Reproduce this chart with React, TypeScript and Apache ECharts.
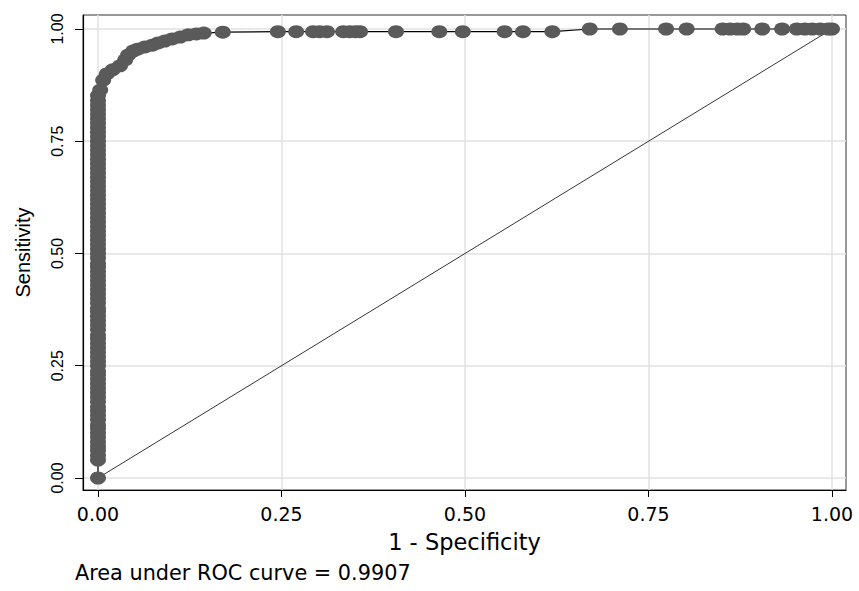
import React, { useEffect, useRef } from "react";
import * as echarts from "echarts";

// Axis ticks
const xTickValues = [0, 0.25, 0.5, 0.75, 1];
const yTickValues = [0, 0.25, 0.5, 0.75, 1];

// ROC curve points (1 - Specificity, Sensitivity)
const originPoint = [0, 0];

// dense vertical column at 1 - Specificity = 0
const columnSensitivity = [
  0.04, 0.05, 0.061, 0.07, 0.08, 0.091, 0.1, 0.11, 0.118, 0.13, 0.14, 0.15,
  0.158, 0.17, 0.18, 0.19, 0.2, 0.21, 0.22, 0.23, 0.238, 0.25, 0.26, 0.27,
  0.28, 0.29, 0.3, 0.31, 0.318, 0.33, 0.34, 0.35, 0.36, 0.37, 0.378, 0.39,
  0.4, 0.41, 0.42, 0.43, 0.44, 0.45, 0.46, 0.47, 0.478, 0.49, 0.5, 0.51, 0.52,
  0.53, 0.54, 0.55, 0.56, 0.57, 0.58, 0.59, 0.6, 0.61, 0.62, 0.63, 0.64, 0.65,
  0.66, 0.67, 0.68, 0.69, 0.7, 0.71, 0.72, 0.73, 0.74, 0.75, 0.76, 0.77, 0.78,
  0.79, 0.8, 0.81, 0.82, 0.83, 0.84, 0.852,
];

// bend of the curve
const bendFpr = [
  0.003, 0.007, 0.012, 0.02, 0.03, 0.037, 0.041, 0.048, 0.054, 0.064, 0.074,
  0.082, 0.091, 0.101, 0.112, 0.123, 0.134, 0.144, 0.17,
];
const bendSensitivity = [
  0.864, 0.886, 0.9, 0.909, 0.918, 0.931, 0.942, 0.951, 0.955, 0.96, 0.964,
  0.969, 0.973, 0.978, 0.982, 0.987, 0.989, 0.991, 0.993,
];

// plateau near sensitivity = 1
const plateauFpr = [
  0.245, 0.27, 0.293, 0.302, 0.312, 0.334, 0.343, 0.351, 0.357, 0.406, 0.465,
  0.497, 0.554, 0.579, 0.619, 0.67, 0.711, 0.774, 0.802, 0.851, 0.861, 0.871,
  0.879, 0.905, 0.932, 0.952, 0.963, 0.973, 0.984, 0.995, 1.0,
];
const plateauSensitivity = [
  0.994, 0.994, 0.994, 0.994, 0.994, 0.994, 0.994, 0.994, 0.994, 0.994, 0.994,
  0.994, 0.994, 0.994, 0.994, 1.0, 1.0, 1.0, 1.0, 1.0, 1.0, 1.0, 1.0, 1.0,
  1.0, 1.0, 1.0, 1.0, 1.0, 1.0, 1.0,
];

const diagonal = [
  [0, 0],
  [1, 1],
];

const aucText = "Area under ROC curve = 0.9907";

export default function App() {
  const ref = useRef<HTMLDivElement>(null);

  useEffect(() => {
    document.body.style.margin = "0";
    if (!ref.current) return;
    const chart = echarts.init(ref.current, null, { renderer: "svg" });

    const rocData: number[][] = [];
    rocData.push(originPoint);
    columnSensitivity.forEach((s) => rocData.push([0, s]));
    bendFpr.forEach((f, i) => rocData.push([f, bendSensitivity[i]]));
    plateauFpr.forEach((f, i) => rocData.push([f, plateauSensitivity[i]]));

    const fmt = (v: number) => v.toFixed(2);

    chart.setOption({
      animation: false,
      backgroundColor: "#ffffff",
      grid: {
        left: 83,
        right: 13,
        top: 15,
        bottom: 101,
        show: true,
        borderColor: "#333333",
        borderWidth: 1,
        backgroundColor: "transparent",
        containLabel: false,
        outerBoundsMode: "none",
      },
      xAxis: {
        type: "value",
        min: -0.02044,
        max: 1.01907,
        name: "1 - Specificity",
        nameLocation: "middle",
        nameGap: 40,
        nameTextStyle: {
          fontFamily: "DejaVu Sans",
          fontSize: 22.5,
          color: "#000",
        },
        axisLine: {
          show: true,
          onZero: false,
          lineStyle: { color: "#000", width: 1.2 },
        },
        axisTick: {
          show: true,
          customValues: xTickValues,
          length: 7,
          lineStyle: { color: "#000", width: 1 },
        },
        axisLabel: {
          customValues: xTickValues,
          formatter: fmt,
          margin: 14,
          fontFamily: "DejaVu Sans",
          fontSize: 19,
          color: "#000",
        },
        splitLine: {
          show: true,
          lineStyle: { color: "#e2e2e2", width: 1.5 },
        },
      },
      yAxis: {
        type: "value",
        min: -0.02673,
        max: 1.03118,
        name: "Sensitivity",
        nameLocation: "middle",
        nameGap: 50,
        nameRotate: 90,
        nameTextStyle: {
          fontFamily: "Liberation Sans",
          fontSize: 20,
          color: "#000",
        },
        axisLine: {
          show: true,
          onZero: false,
          lineStyle: { color: "#000", width: 1.2 },
        },
        axisTick: {
          show: true,
          customValues: yTickValues,
          length: 8,
          lineStyle: { color: "#000", width: 1 },
        },
        axisLabel: {
          customValues: yTickValues,
          formatter: fmt,
          rotate: 90,
          margin: 18,
          fontFamily: "Liberation Sans",
          fontSize: 16,
          color: "#000",
        },
        splitLine: {
          show: true,
          lineStyle: { color: "#e2e2e2", width: 1.5 },
        },
      },
      series: [
        {
          type: "line",
          data: diagonal,
          symbol: "none",
          lineStyle: { color: "#000", width: 0.8 },
          z: 1,
          silent: true,
        },
        {
          type: "line",
          data: rocData,
          symbol: "circle",
          symbolSize: [16, 13],
          showAllSymbol: true,
          itemStyle: { color: "#5a5a5a" },
          lineStyle: { color: "#000", width: 1.2 },
          z: 2,
          silent: true,
        },
      ],
      graphic: [
        {
          type: "text",
          left: 75,
          top: 562,
          style: {
            text: aucText,
            fontFamily: "DejaVu Sans",
            fontSize: 20.8,
            fill: "#000",
          },
        },
      ],
    });

    return () => chart.dispose();
  }, []);

  return <div ref={ref} style={{ width: 859, height: 591 }} />;
}
